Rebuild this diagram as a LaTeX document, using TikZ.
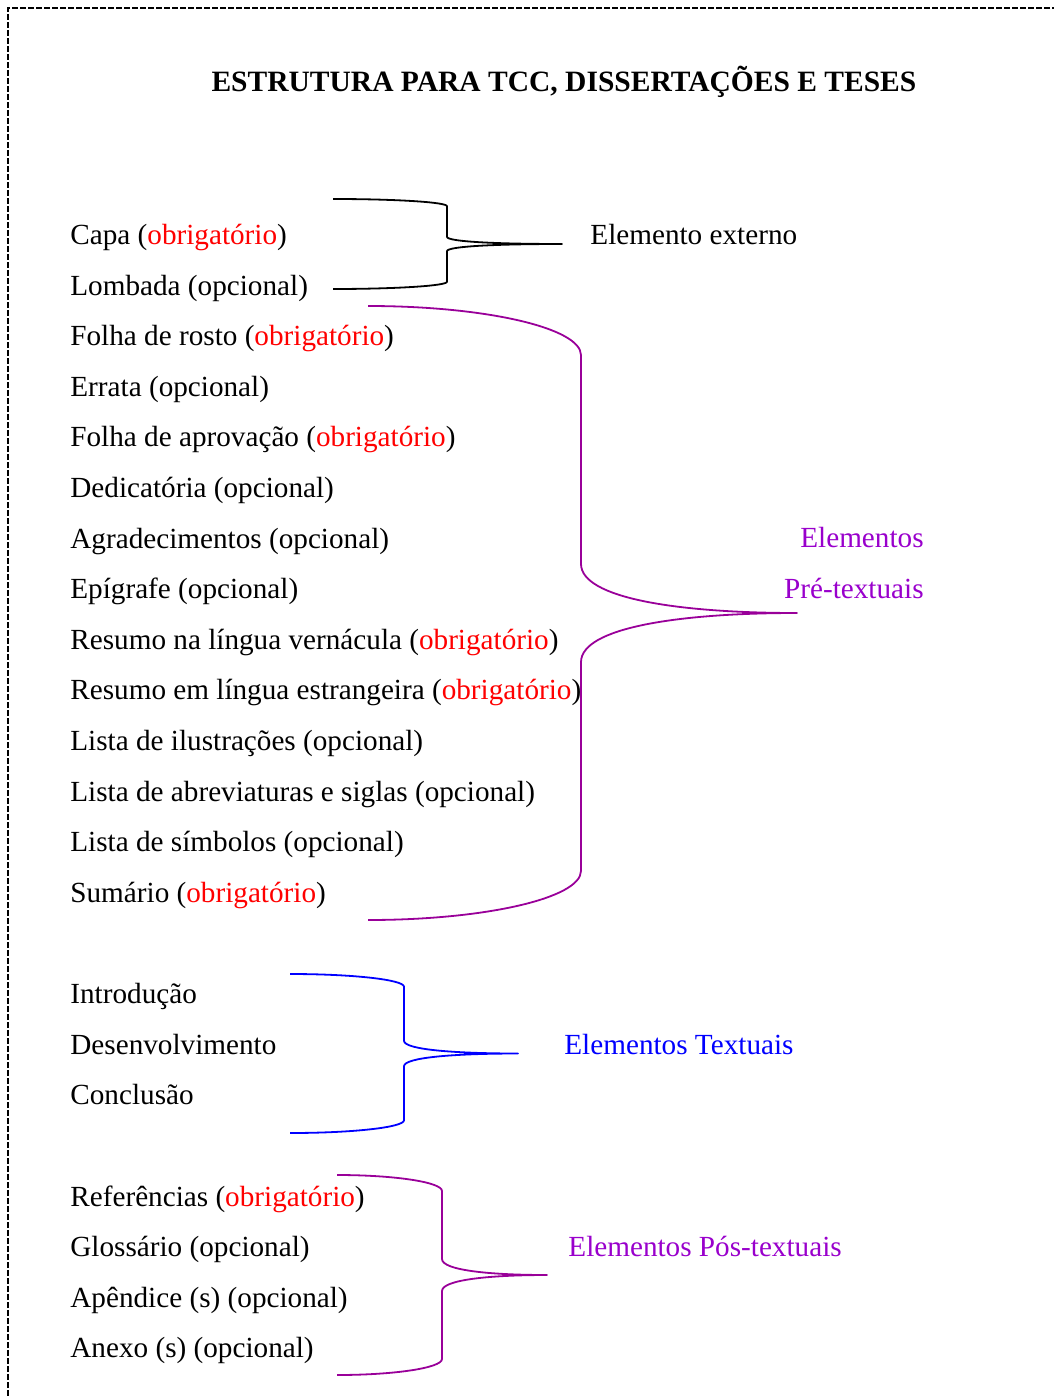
\documentclass[tikz,border=0pt]{standalone}
\usepackage{fontspec}
\setmainfont{Liberation Serif}
\usepackage{tikz}
\usetikzlibrary{positioning, calc}
\definecolor{roxo}{RGB}{153,0,153}
\definecolor{violeta}{RGB}{153,0,204}
\newcommand*{\myred}{(\textcolor{red}{obrigatório})}
% chave: cor, x ponta solta, x vertical, x bico, y topo, y base
\newcommand*{\chave}[6]{%
  \pgfmathsetmacro{\dd}{0.08*(#6-#5)}%
  \pgfmathsetmacro{\ym}{0.5*(#5+#6)}%
  \draw[chave, #1] (#2,#5) .. controls ({#2+0.552*(#3-#2)},#5) and (#3,{#5+0.448*\dd}) .. (#3,{#5+\dd})
    -- (#3,{\ym-\dd}) .. controls (#3,{\ym-0.3*\dd}) and ({#3+0.45*(#4-#3)},\ym) .. (#4,\ym)
    .. controls ({#3+0.45*(#4-#3)},\ym) and (#3,{\ym+0.3*\dd}) .. (#3,{\ym+\dd})
    -- (#3,{#6-\dd}) .. controls (#3,{#6-0.448*\dd}) and ({#2+0.552*(#3-#2)},#6) .. (#2,#6);}

\begin{document}
\begin{tikzpicture}[
        x=0.5pt, y=-0.5pt,
        item/.style={anchor=base west, inner sep=0pt, font=\fontsize{14.6}{17}\selectfont},
        rotulo/.style={anchor=base west, inner sep=0pt, font=\fontsize{14.6}{17}\selectfont},
        chave/.style={line width=0.9pt, line join=round},
        moldura/.style={line width=0.9pt, dash pattern=on 3pt off 1pt},
        ]
        \useasboundingbox (0,0) rectangle (1054,1396);
        \draw[moldura] (8,1396) -- (8,8) -- (1054,8);

        \node[inner sep=0pt, anchor=base, font=\fontsize{14.76}{17}\selectfont\bfseries] (titulo) at (564,92)
          {ESTRUTURA PARA TCC, DISSERTAÇÕES E TESES};

        % elementos pre-textuais
        \foreach \txt [count=\i] in {Capa \myred, Lombada (opcional), Folha de rosto \myred,
            Errata (opcional), Folha de aprovação \myred, Dedicatória (opcional),
            Agradecimentos (opcional), Epígrafe (opcional),
            Resumo na língua vernácula \myred, Resumo em língua estrangeira \myred,
            Lista de ilustrações (opcional), Lista de abreviaturas e siglas (opcional),
            Lista de símbolos (opcional), Sumário \myred}
          \node[item] (pre\i) at (70,{244.5+50.6*(\i-1)}) {\txt};

        % elementos textuais
        \foreach \txt [count=\i] in {Introdução, Desenvolvimento, Conclusão}
          \node[item] (tex\i) at (70,{1003.5+50.6*(\i-1)}) {\txt};

        % elementos pos-textuais
        \foreach \txt [count=\i] in {Referências \myred, Glossário (opcional),
            Apêndice (s) (opcional), Anexo (s) (opcional)}
          \node[item] (pos\i) at (70,{1206.5+50.4*(\i-1)}) {\txt};

        \chave{black}{333}{447}{562}{199}{289}
        \chave{roxo}{368}{581}{797}{306}{920}
        \chave{blue}{290}{404}{518}{974}{1133}
        \chave{roxo}{337}{442}{547}{1175}{1375}

        \node[rotulo] (externo) at (590,244.5) {Elemento externo};
        \node[rotulo, anchor=base east, text=violeta] (pre) at (924,547.5) {Elementos};
        \node[rotulo, anchor=base east, text=violeta] (pre2) at (924,598) {Pré-textuais};
        \node[rotulo, text=blue] (textuais) at (564,1054) {Elementos Textuais};
        \node[rotulo, text=violeta] (postex) at (568,1256.5) {Elementos Pós-textuais};
      \end{tikzpicture}
\end{document}
